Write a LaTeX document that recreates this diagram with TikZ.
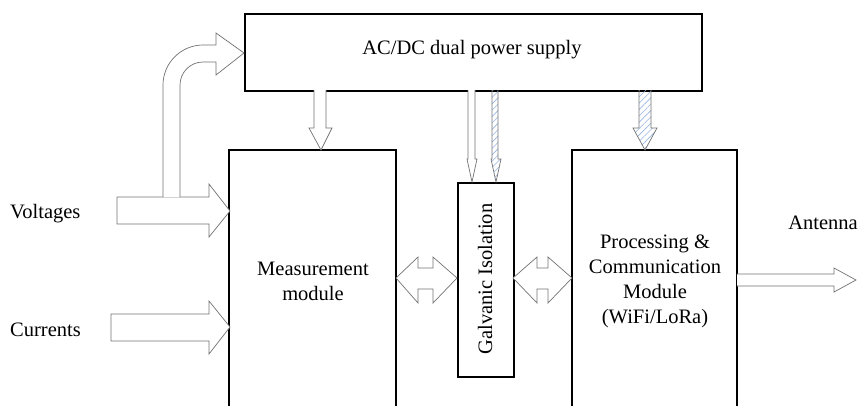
\documentclass[tikz,border=0pt]{standalone}
\usepackage{fontspec}
\setmainfont{Liberation Serif}
\usetikzlibrary{patterns.meta}
\definecolor{hatchblue}{RGB}{150,180,225}
\begin{document}
\begin{tikzpicture}[x=1pt,y=-1pt,
  blockbox/.style={draw=black,line width=1.6pt,fill=white,inner sep=0pt},
  barrow/.style={draw=black!55,line width=0.7pt,fill=white,line join=miter},
  harrow/.style={draw=black!55,line width=0.7pt,pattern={Lines[angle=45,distance=4.5pt,line width=0.6pt]},pattern color=hatchblue,line join=miter},
  lbl/.style={font=\fontsize{20.5}{25}\selectfont,align=center,inner sep=0pt}]
\useasboundingbox (0,0) rectangle (862,405);
% boxes
\node[blockbox,minimum width=457pt,minimum height=77pt,anchor=north west] (ps) at (244,13) {};
\node[lbl] (pstxt) at (472,50) {AC/DC dual power supply};
\draw[line width=1.6pt,fill=white] (229,410) -- (229,150) -- (396,150) -- (396,410);
\coordinate (mtop) at (229,150);
\node[lbl] (mtxt) at (313,281) {Measurement\\module};
\node[blockbox,minimum width=56pt,minimum height=194pt,anchor=north west] (gi) at (457,182) {};
\node[lbl,rotate=90] (gitxt) at (485,279) {Galvanic Isolation};
\draw[line width=1.6pt,fill=white] (572,410) -- (572,150) -- (737,150) -- (737,410);
\coordinate (ptop) at (572,150);
\node[lbl] (ptxt) at (655,281) {Processing \&\\Communication\\Module\\(WiFi/LoRa)};
% labels
\node[lbl,anchor=west] (vl) at (10,214) {Voltages};
\node[lbl,anchor=west] (cl) at (10,330) {Currents};
\node[lbl] (al) at (823,223) {Antenna};
% input arrows
\draw[barrow] (117,197) -- (209,197) -- (209,184) -- (230,211) -- (209,237) -- (209,224) -- (117,224) -- cycle;
\draw[barrow] (111,314) -- (209,314) -- (209,301) -- (230,327) -- (209,354) -- (209,341) -- (111,341) -- cycle;
% curved arrow to power supply
\draw[barrow] (180,197) -- (180,85) .. controls (180,72.3) and (190.3,62) .. (203,62) -- (216,62) -- (216,75) -- (ps.west |- 0,53) -- (216,33) -- (216,45) -- (203,45) .. controls (181,45) and (163,63) .. (163,85) -- (163,197);
% power arrows
\draw[barrow] (314,90) -- (314,128) -- (309,128) -- (321,150) -- (332,128) -- (326,128) -- (326,90);
\draw[barrow] (468,90) -- (468,159) -- (467,159) -- (472,182) -- (477,159) -- (475,159) -- (475,90);
\draw[harrow] (492,90) -- (492,159) -- (491,159) -- (496,182) -- (501,159) -- (498,159) -- (498,90);
\draw[harrow] (639,90) -- (639,128) -- (633,128) -- (645,150) -- (657,128) -- (651,128) -- (651,90);
% double arrows
\draw[barrow] (396,278) -- (418,257) -- (418,268) -- (433,268) -- (433,257) -- (457,278) -- (433,303) -- (433,289) -- (418,289) -- (418,303) -- cycle;
\draw[barrow] (513,278) -- (537,257) -- (537,268) -- (548,268) -- (548,257) -- (572,278) -- (548,303) -- (548,289) -- (537,289) -- (537,303) -- cycle;
% antenna arrow
\draw[barrow] (737,274) -- (834,274) -- (834,268) -- (856,280) -- (834,292) -- (834,286) -- (737,286);
\end{tikzpicture}
\end{document}
